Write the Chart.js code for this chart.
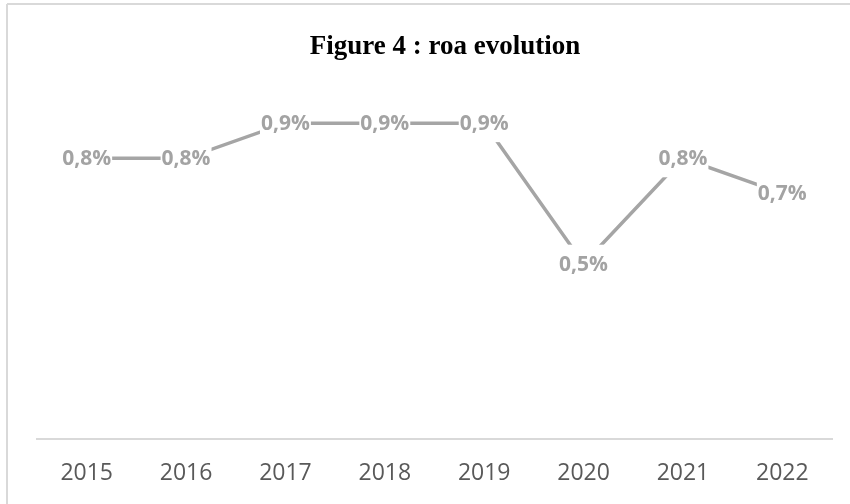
<!DOCTYPE html>
<html>
<head>
<meta charset="utf-8">
<script src="https://cdn.jsdelivr.net/npm/chart.js@4/dist/chart.umd.min.js"></script>
<style>
  html, body { margin: 0; padding: 0; background: #ffffff; }
  #wrap { position: relative; width: 850px; height: 504px; }
</style>
</head>
<body>
<div id="wrap"><canvas id="c"></canvas></div>
<script>
const categories = ['2015', '2016', '2017', '2018', '2019', '2020', '2021', '2022'];
const roaValues = [0.8, 0.8, 0.9, 0.9, 0.9, 0.5, 0.8, 0.7];
const chartTitle = 'Figure 4 : roa evolution';

const frameAndTitle = {
  id: 'frameAndTitle',
  beforeDraw(chart) {
    const ctx = chart.ctx;
    ctx.save();
    ctx.fillStyle = '#ffffff';
    ctx.fillRect(0, 0, chart.width, chart.height);
    ctx.strokeStyle = '#d9d9d9';
    ctx.lineWidth = 2;
    ctx.beginPath();
    ctx.moveTo(7, 4);
    ctx.lineTo(chart.width, 4);
    ctx.moveTo(7, 4);
    ctx.lineTo(7, chart.height);
    ctx.stroke();
    ctx.fillStyle = '#000000';
    ctx.font = 'bold 27px "Liberation Serif", "Times New Roman", serif';
    ctx.textAlign = 'center';
    ctx.textBaseline = 'alphabetic';
    ctx.fillText(chartTitle, 445, 54);
    ctx.restore();
  }
};

const dataLabels = {
  id: 'dataLabels',
  afterDatasetsDraw(chart) {
    const ctx = chart.ctx;
    const meta = chart.getDatasetMeta(0);
    ctx.save();
    ctx.font = 'bold 21px "Open Sans", sans-serif';
    ctx.textAlign = 'center';
    ctx.textBaseline = 'middle';
    meta.data.forEach((pt, i) => {
      const txt = roaValues[i].toFixed(1).replace('.', ',') + '%';
      const w = ctx.measureText(txt).width;
      ctx.fillStyle = '#ffffff';
      ctx.fillRect(pt.x - w / 2 - 1, pt.y - 19, w + 2, 38);
      ctx.fillStyle = '#a3a3a3';
      ctx.fillText(txt, pt.x, pt.y + 1);
    });
    ctx.restore();
  }
};

new Chart(document.getElementById('c'), {
  type: 'line',
  data: {
    labels: categories,
    datasets: [{
      data: roaValues,
      borderColor: '#a5a5a5',
      borderWidth: 3.5,
      pointRadius: 0,
      tension: 0,
      fill: false
    }]
  },
  options: {
    responsive: true,
    maintainAspectRatio: false,
    animation: false,
    layout: { padding: { left: 37, right: 18, top: 88, bottom: -3 } },
    plugins: {
      legend: { display: false },
      title: { display: false },
      tooltip: { enabled: false }
    },
    scales: {
      x: {
        offset: true,
        grid: { display: false, drawTicks: false },
        border: { display: true, color: '#d9d9d9', width: 2 },
        ticks: {
          color: '#595959',
          font: { family: '"Open Sans", sans-serif', size: 23 },
          padding: 20,
          maxRotation: 0
        }
      },
      y: {
        display: false,
        min: 0,
        max: 1.0
      }
    }
  },
  plugins: [frameAndTitle, dataLabels]
});
</script>
</body>
</html>
